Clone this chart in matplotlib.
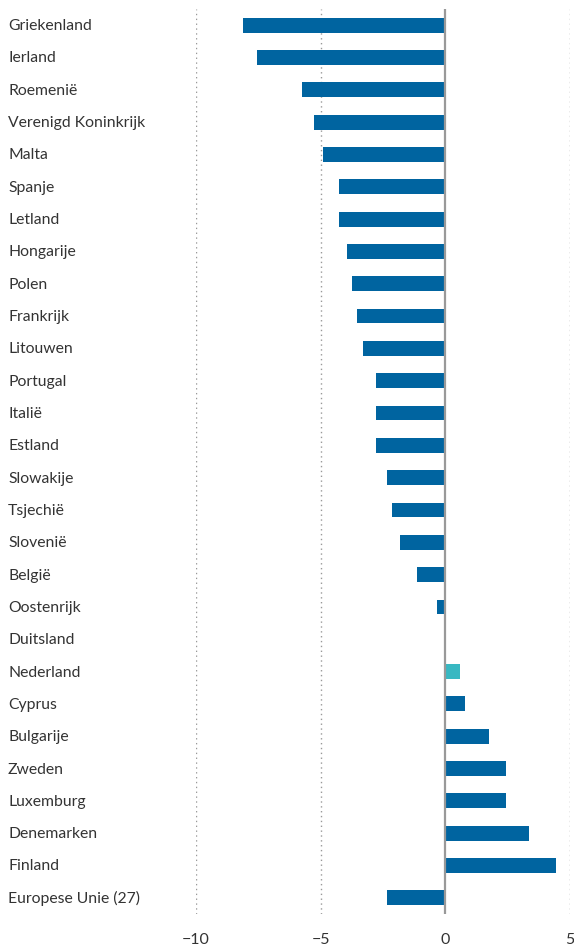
import matplotlib
matplotlib.use("Agg")
import matplotlib.pyplot as plt
import matplotlib.transforms as mtransforms

landen = ["Griekenland", "Ierland", "Roemenië", "Verenigd Koninkrijk", "Malta",
          "Spanje", "Letland", "Hongarije", "Polen", "Frankrijk", "Litouwen",
          "Portugal", "Italië", "Estland", "Slowakije", "Tsjechië", "Slovenië",
          "België", "Oostenrijk", "Duitsland", "Nederland", "Cyprus", "Bulgarije",
          "Zweden", "Luxemburg", "Denemarken", "Finland", "Europese Unie (27)"]
waarden = [-8.1, -7.55, -5.75, -5.25, -4.9, -4.25, -4.25, -3.95, -3.75, -3.55,
           -3.3, -2.8, -2.8, -2.8, -2.35, -2.15, -1.8, -1.15, -0.35, 0.0,
           0.6, 0.8, 1.75, 2.45, 2.45, 3.35, 4.45, -2.35]
xticks = [-10, -5, 0, 5]
xticklabels = ["\u221210", "\u22125", "0", "5"]

blauw = "#0064a0"
turkoois = "#38b8c2"
kleuren = [turkoois if l == "Nederland" else blauw for l in landen]

plt.rcParams['font.family'] = ['Lato', 'DejaVu Sans']

W, H = 574, 951
fig = plt.figure(figsize=(W / 100, H / 100), dpi=100)
ax = fig.add_axes([196 / W, 1 - 914 / H, (570 - 196) / W, (914 - 9) / H])

y = list(range(len(landen)))
ax.barh(y, waarden, height=0.46, color=kleuren, zorder=3)

ax.set_xlim(-10, 5)
ax.set_ylim(len(landen) - 0.5, -0.5)

# stippellijnen en nullijn
for x in [-10, -5, 5]:
    ax.axvline(x, color="#999999", lw=1, ls=(0, (1, 2.5)), zorder=1)
ax.axvline(0, color="#999999", lw=1.6, zorder=4)

for s in ax.spines.values():
    s.set_visible(False)
ax.set_yticks([])
ax.set_xticks(xticks)
ax.set_xticklabels(xticklabels, fontsize=11.5, color="#333333")
ax.tick_params(axis="x", length=0, pad=14)

trans = mtransforms.blended_transform_factory(fig.transFigure, ax.transData)
for i, l in enumerate(landen):
    ax.text(8 / W, i + 0.03, l, transform=trans, ha="left", va="center",
            fontsize=11.3, color="#333333")

fig.savefig("out.png", dpi=100)
